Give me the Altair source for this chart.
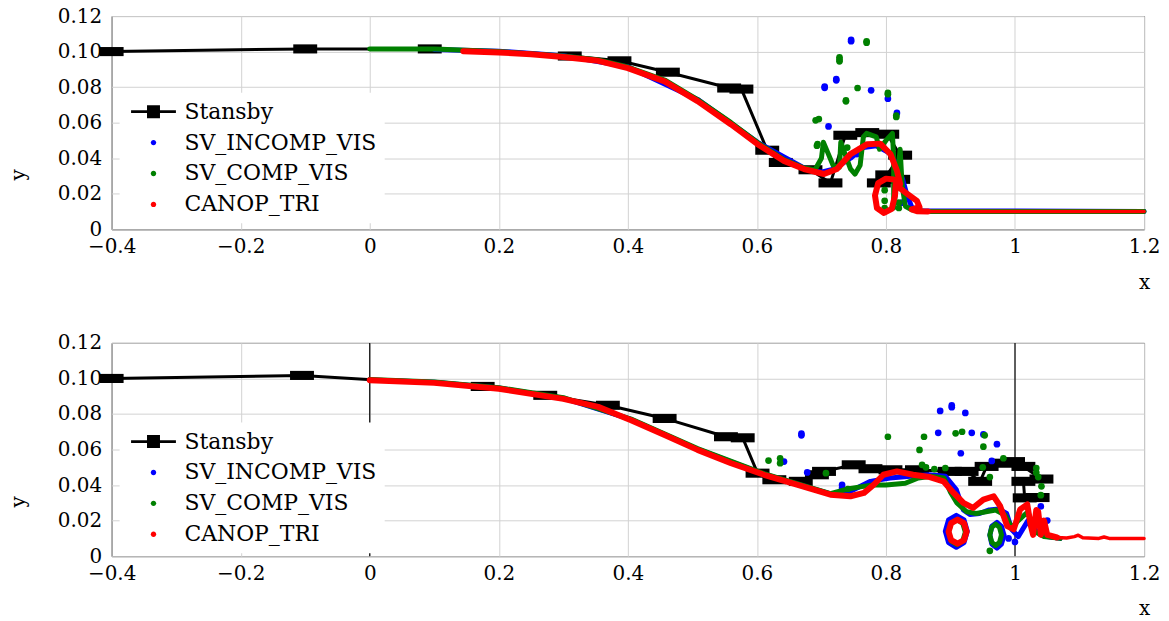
import altair as alt
import pandas as pd

FONT = "DejaVu Serif"
W, H = 1036, 214
BLUE, GREEN, RED = "#0000ff", "#008000", "#ff0000"

SERIES = ["Stansby", "SV_INCOMP_VIS", "SV_COMP_VIS", "CANOP_TRI"]
X_TICKS = [-0.4, -0.2, 0, 0.2, 0.4, 0.6, 0.8, 1, 1.2]
Y_TICKS = [0, 0.02, 0.04, 0.06, 0.08, 0.10, 0.12]

# ---------------- top panel ----------------
top_stansby_x = [-0.4, -0.1, 0.093, 0.31, 0.387, 0.462, 0.557, 0.576, 0.616, 0.637, 0.683, 0.714, 0.737, 0.771, 0.802, 0.822, 0.802, 0.819, 0.789]
top_stansby_y = [0.1000, 0.1015, 0.1015, 0.0975, 0.0948, 0.0884, 0.0795, 0.0789, 0.0445, 0.0376, 0.0335, 0.0261, 0.0529, 0.0544, 0.0535, 0.0417, 0.0306, 0.0281, 0.0261]

top_blue_x = [0.10, 0.2, 0.3, 0.40, 0.508, 0.601, 0.673, 0.700, 0.720, 0.745, 0.765, 0.785, 0.805, 0.818, 0.826, 0.832, 0.840, 0.850, 1.2]
top_blue_y = [0.1012, 0.1002, 0.0977, 0.0914, 0.0731, 0.0489, 0.0345, 0.0322, 0.0340, 0.0400, 0.0460, 0.0470, 0.0430, 0.0360, 0.0280, 0.0200, 0.0125, 0.0105, 0.0100]
top_blue_dots_x = [0.746, 0.746, 0.723, 0.723, 0.705, 0.705, 0.777, 0.803, 0.817, 0.711, 0.755, 0.760, 0.822, 0.825]
top_blue_dots_y = [0.1066, 0.1058, 0.0845, 0.0838, 0.0803, 0.0796, 0.0782, 0.0735, 0.0655, 0.0579, 0.0423, 0.0450, 0.0270, 0.0150]

top_green_x = [0.0, 0.1, 0.15, 0.2, 0.3, 0.354, 0.40, 0.457, 0.508, 0.560, 0.601, 0.642, 0.673, 0.690, 0.700, 0.703, 0.710, 0.718, 0.728, 0.730, 0.735, 0.745, 0.752, 0.760, 0.765, 0.770, 0.785, 0.790, 0.800, 0.810, 0.812, 0.812, 0.818, 0.822, 0.825, 0.830, 0.840, 0.860, 1.2]
top_green_y = [0.1015, 0.1015, 0.1008, 0.1000, 0.0975, 0.0953, 0.0913, 0.0840, 0.0730, 0.0600, 0.0488, 0.0392, 0.0345, 0.0335, 0.0400, 0.0490, 0.0430, 0.0360, 0.0350, 0.0490, 0.0440, 0.0340, 0.0310, 0.0360, 0.0520, 0.0540, 0.0520, 0.0450, 0.0500, 0.0540, 0.0400, 0.0120, 0.0300, 0.0450, 0.0250, 0.0130, 0.0110, 0.0100, 0.0100]
top_green_dots_x = [0.770, 0.770, 0.728, 0.728, 0.728, 0.756, 0.738, 0.803, 0.803, 0.816, 0.816, 0.691, 0.694, 0.693, 0.696, 0.738, 0.798, 0.798, 0.798, 0.820, 0.820, 0.740]
top_green_dots_y = [0.1058, 0.1050, 0.0968, 0.0955, 0.0945, 0.0795, 0.0725, 0.0768, 0.0760, 0.0640, 0.0632, 0.0613, 0.0480, 0.0470, 0.0620, 0.0720, 0.0220, 0.0160, 0.0120, 0.0150, 0.0120, 0.0460]

top_red_x = [0.145, 0.2, 0.25, 0.3, 0.354, 0.40, 0.457, 0.508, 0.560, 0.601, 0.642, 0.673, 0.704, 0.724, 0.745, 0.771, 0.791, 0.807, 0.817, 0.822, 0.812, 0.800, 0.788, 0.783, 0.786, 0.797, 0.809, 0.814, 0.815, 0.833, 0.848, 0.852, 0.840, 0.848, 0.865]
top_red_y = [0.1002, 0.0995, 0.0985, 0.0970, 0.0948, 0.0907, 0.0832, 0.0721, 0.0590, 0.0479, 0.0385, 0.0339, 0.0311, 0.0339, 0.0423, 0.0479, 0.0482, 0.0423, 0.0330, 0.0255, 0.0280, 0.0285, 0.0260, 0.0190, 0.0120, 0.0092, 0.0115, 0.0190, 0.0250, 0.0200, 0.0160, 0.0125, 0.0112, 0.0102, 0.0100]
top_red_tail_x = [0.865, 1.2]
top_red_tail_y = [0.0100, 0.0100]

top_vlines = []

# ---------------- bottom panel ----------------
bot_stansby_x = [-0.4, -0.105, 0.175, 0.272, 0.369, 0.457, 0.552, 0.578, 0.601, 0.627, 0.668, 0.693, 0.704, 0.750, 0.776, 0.807, 0.848, 0.899, 0.925, 0.946, 0.956, 0.979, 0.997, 1.013, 1.041, 1.013, 1.015, 1.035]
bot_stansby_y = [0.1000, 0.1017, 0.0955, 0.0905, 0.0849, 0.0775, 0.0672, 0.0666, 0.0467, 0.0430, 0.0421, 0.0458, 0.0477, 0.0514, 0.0492, 0.0486, 0.0486, 0.0477, 0.0477, 0.0421, 0.0505, 0.0523, 0.0532, 0.0505, 0.0434, 0.0421, 0.0328, 0.0330]

bot_blue_x = [0.0, 0.1, 0.2, 0.3, 0.405, 0.508, 0.611, 0.714, 0.745, 0.776, 0.806, 0.838, 0.866, 0.892, 0.909, 0.920, 0.930, 0.945, 0.960, 0.975, 0.987, 0.995, 1.005, 1.020, 1.030, 1.050, 1.070]
bot_blue_y = [0.0992, 0.0978, 0.0946, 0.0889, 0.0769, 0.0602, 0.0462, 0.0350, 0.0365, 0.0421, 0.0440, 0.0450, 0.0458, 0.0450, 0.0374, 0.0260, 0.0235, 0.0240, 0.0260, 0.0265, 0.0240, 0.0150, 0.0110, 0.0200, 0.0150, 0.0110, 0.0100]
bot_blue_loop_x = [0.926, 0.921, 0.909, 0.897, 0.892, 0.897, 0.909, 0.921, 0.926]
bot_blue_loop_y = [0.0140, 0.0204, 0.0230, 0.0204, 0.0140, 0.0076, 0.0050, 0.0076, 0.0140]
bot_blue_loop2_x = [0.983, 0.979, 0.972, 0.964, 0.961, 0.964, 0.972, 0.979, 0.983]
bot_blue_loop2_y = [0.0118, 0.0168, 0.0190, 0.0168, 0.0118, 0.0068, 0.0045, 0.0068, 0.0118]
bot_blue_dots_x = [0.669, 0.669, 0.884, 0.902, 0.902, 0.923, 0.881, 0.933, 0.951, 0.972, 0.916, 0.964, 0.678, 0.642, 0.732, 0.732, 1.040, 1.050, 0.990, 1.000]
bot_blue_dots_y = [0.0690, 0.0680, 0.0817, 0.0848, 0.0838, 0.0806, 0.0694, 0.0694, 0.0685, 0.0630, 0.0579, 0.0536, 0.0471, 0.0532, 0.0402, 0.0385, 0.0280, 0.0200, 0.0100, 0.0080]

bot_green_x = [0.0, 0.1, 0.2, 0.3, 0.405, 0.508, 0.611, 0.714, 0.741, 0.760, 0.780, 0.800, 0.830, 0.850, 0.870, 0.890, 0.900, 0.910, 0.925, 0.940, 0.955, 0.970, 0.985, 0.995, 1.005, 1.020, 1.030, 1.045, 1.070]
bot_green_y = [0.0994, 0.0980, 0.0948, 0.0892, 0.0771, 0.0605, 0.0464, 0.0352, 0.0378, 0.0390, 0.0400, 0.0400, 0.0410, 0.0440, 0.0450, 0.0440, 0.0360, 0.0300, 0.0250, 0.0240, 0.0250, 0.0260, 0.0230, 0.0160, 0.0200, 0.0250, 0.0140, 0.0110, 0.0100]
bot_green_loop_x = [0.923, 0.919, 0.910, 0.901, 0.897, 0.901, 0.910, 0.919, 0.923]
bot_green_loop_y = [0.0135, 0.0185, 0.0205, 0.0185, 0.0135, 0.0085, 0.0065, 0.0085, 0.0135]
bot_green_loop2_x = [0.979, 0.976, 0.970, 0.964, 0.961, 0.964, 0.970, 0.976, 0.979]
bot_green_loop2_y = [0.0120, 0.0162, 0.0180, 0.0162, 0.0120, 0.0078, 0.0060, 0.0078, 0.0120]
bot_green_dots_x = [0.618, 0.636, 0.636, 0.707, 0.803, 0.859, 0.852, 0.918, 0.908, 0.953, 0.951, 0.982, 0.892, 0.856, 0.961, 1.033, 1.033, 1.036, 1.041, 0.961, 0.741, 0.950, 1.040, 0.862, 0.875]
bot_green_dots_y = [0.0538, 0.0551, 0.0523, 0.0467, 0.0672, 0.0672, 0.0598, 0.0700, 0.0691, 0.0680, 0.0616, 0.0551, 0.0496, 0.0514, 0.0445, 0.0496, 0.0470, 0.0445, 0.0393, 0.0030, 0.0378, 0.0500, 0.0343, 0.0500, 0.0490]

bot_red_x = [0.0, 0.1, 0.2, 0.3, 0.354, 0.405, 0.457, 0.508, 0.560, 0.611, 0.662, 0.714, 0.745, 0.766, 0.781, 0.796, 0.817, 0.842, 0.868, 0.889, 0.905, 0.920, 0.935, 0.951, 0.967, 0.977, 0.988, 0.998, 1.008, 1.019, 1.024, 1.028, 1.033, 1.036, 1.040, 1.045, 1.050, 1.055, 1.065]
bot_red_y = [0.0990, 0.0975, 0.0942, 0.0885, 0.0840, 0.0765, 0.0682, 0.0598, 0.0523, 0.0458, 0.0402, 0.0346, 0.0337, 0.0356, 0.0402, 0.0458, 0.0477, 0.0458, 0.0445, 0.0421, 0.0356, 0.0300, 0.0272, 0.0318, 0.0337, 0.0281, 0.0169, 0.0151, 0.0263, 0.0291, 0.0180, 0.0120, 0.0260, 0.0250, 0.0120, 0.0200, 0.0120, 0.0115, 0.0105]
bot_red_loop_x = [0.925, 0.921, 0.911, 0.901, 0.897, 0.901, 0.911, 0.921, 0.925]
bot_red_loop_y = [0.0138, 0.0186, 0.0206, 0.0186, 0.0138, 0.0090, 0.0070, 0.0090, 0.0138]
bot_red_tail_x = [1.065, 1.080, 1.092, 1.098, 1.105, 1.130, 1.138, 1.146, 1.200]
bot_red_tail_y = [0.0105, 0.0102, 0.0110, 0.0118, 0.0104, 0.0100, 0.0108, 0.0100, 0.0100]

bot_vlines = [0, 1]

# ---------------- styling helpers ----------------
RECT_MARK = "M-1,-0.38H1V0.38H-1Z"
LEG_STANSBY = "M-2.25,-0.14H2.25V0.14H-2.25Z M-0.65,-0.65H0.65V0.65H-0.65Z"
LEG_DOT = "M0.27,0A0.27,0.27,0,1,1,-0.27,0A0.27,0.27,0,1,1,0.27,0Z"

x_label_expr = ("datum.value == 0 ? '0' : (datum.value == 1 ? '1' : "
                "replace(format(datum.value, '.1f'), '-', '\u2212'))")
y_label_expr = "datum.value == 0 ? '0' : format(datum.value, '.2f')"

X_AXIS = alt.Axis(values=X_TICKS, labelExpr=x_label_expr, title="x", grid=True,
                  domain=False, ticks=False, labelPadding=7, labelFlush=False,
                  titleAnchor="end", titleAlign="center", titleBaseline="middle",
                  titleX=W, titleY=53)
Y_AXIS = alt.Axis(values=Y_TICKS, labelExpr=y_label_expr, title="y", grid=True,
                  domain=False, ticks=False, labelPadding=10, labelFlush=False,
                  titleAlign="center", titleBaseline="middle", titleAngle=270,
                  titleX=-93, titleY=159)
XS = alt.Scale(domain=[-0.4, 1.2], nice=False, zero=False)
YS = alt.Scale(domain=[0, 0.12], nice=False, zero=False)


def X():
    return alt.X("x:Q", scale=XS, axis=X_AXIS)


def Y():
    return alt.Y("y:Q", scale=YS, axis=Y_AXIS)


def parts(*pieces):
    rows = []
    for p, (xs, ys) in enumerate(pieces):
        for i, (a, b) in enumerate(zip(xs, ys)):
            rows.append({"x": a, "y": b, "part": p, "i": i})
    return pd.DataFrame(rows)


def lines(color, width, *pieces):
    return alt.Chart(parts(*pieces)).mark_line(
        color=color, strokeWidth=width, strokeJoin="round", strokeCap="round"
    ).encode(x=X(), y=Y(), detail="part:N", order="i:Q")


def dots(color, xs, ys, size=45):
    return alt.Chart(parts((xs, ys))).mark_circle(color=color, size=size, opacity=1).encode(x=X(), y=Y())


def legend_layer(legend_y):
    leg = alt.Legend(orient="none", legendX=8, legendY=legend_y, title=None,
                     fillColor="white", padding=8, labelFont=FONT, labelFontSize=22,
                     labelColor="black", symbolSize=400, symbolOffset=15, labelOffset=20,
                     rowPadding=9, symbolStrokeWidth=0, symbolOpacity=1, labelLimit=400,
                     direction="vertical")
    df = pd.DataFrame({"series": SERIES})
    return alt.Chart(df).mark_point(filled=True, opacity=0).encode(
        color=alt.Color("series:N", sort=SERIES, legend=leg,
                        scale=alt.Scale(domain=SERIES, range=["black", BLUE, GREEN, RED])),
        shape=alt.Shape("series:N", sort=SERIES, legend=leg,
                        scale=alt.Scale(domain=SERIES, range=[LEG_STANSBY, LEG_DOT, LEG_DOT, LEG_DOT])),
    )


def panel(d, vlines, legend_y):
    layers = []
    if vlines:
        layers.append(alt.Chart(pd.DataFrame({"x": vlines})).mark_rule(
            color="black", strokeWidth=1.2).encode(x=X()))
    layers += [
        lines("black", 3, d["stansby"]),
        alt.Chart(parts(d["stansby"])).mark_point(
            shape=RECT_MARK, size=576, filled=True, color="black", opacity=1
        ).encode(x=X(), y=Y()),
        lines(BLUE, 5, *d["blue"]),
        dots(BLUE, *d["blue_dots"]),
        lines(GREEN, 5, *d["green"]),
        dots(GREEN, *d["green_dots"]),
        lines(RED, 6, *d["red"]),
        lines(RED, 3.5, d["red_tail"]),
        legend_layer(legend_y),
    ]
    return alt.layer(*layers).properties(width=W, height=H)


top = panel({
    "stansby": (top_stansby_x, top_stansby_y),
    "blue": [(top_blue_x, top_blue_y)],
    "blue_dots": (top_blue_dots_x, top_blue_dots_y),
    "green": [(top_green_x, top_green_y)],
    "green_dots": (top_green_dots_x, top_green_dots_y),
    "red": [(top_red_x, top_red_y)],
    "red_tail": (top_red_tail_x, top_red_tail_y),
}, top_vlines, 77)

bottom = panel({
    "stansby": (bot_stansby_x, bot_stansby_y),
    "blue": [(bot_blue_x, bot_blue_y), (bot_blue_loop_x, bot_blue_loop_y), (bot_blue_loop2_x, bot_blue_loop2_y)],
    "blue_dots": (bot_blue_dots_x, bot_blue_dots_y),
    "green": [(bot_green_x, bot_green_y), (bot_green_loop_x, bot_green_loop_y), (bot_green_loop2_x, bot_green_loop2_y)],
    "green_dots": (bot_green_dots_x, bot_green_dots_y),
    "red": [(bot_red_x, bot_red_y), (bot_red_loop_x, bot_red_loop_y)],
    "red_tail": (bot_red_tail_x, bot_red_tail_y),
}, bot_vlines, 80)

chart = alt.vconcat(top, bottom, spacing=39).resolve_scale(
    color="independent", shape="independent"
).resolve_legend(
    color="independent", shape="independent"
).properties(padding={"left": 0, "top": -4, "right": 0, "bottom": 0}).configure(
    font=FONT
).configure_view(
    stroke="black", strokeWidth=1
).configure_axis(
    gridColor="#d2d2d2", gridWidth=1, labelFont=FONT, labelFontSize=20, labelColor="black",
    titleFont=FONT, titleFontSize=20, titleFontWeight="normal", titleColor="black",
).configure_legend(
    labelFont=FONT, labelFontSize=22, labelColor="black"
)

chart.save("out.html", embed_options={"renderer": "svg", "actions": False})
